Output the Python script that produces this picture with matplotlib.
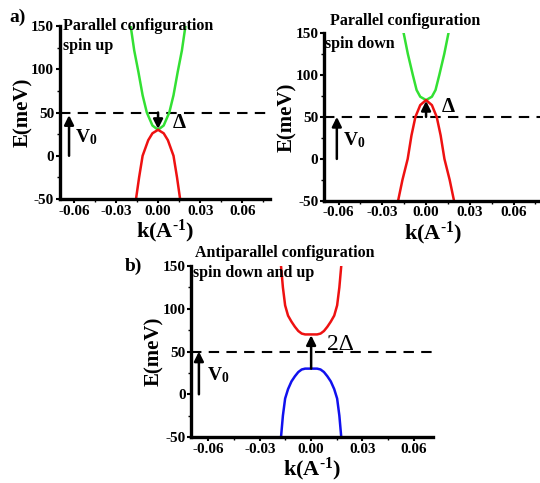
import numpy as np
import matplotlib
matplotlib.use('Agg')
import matplotlib.pyplot as plt
from matplotlib.ticker import MultipleLocator

plt.rcParams['font.family'] = ['Liberation Serif', 'DejaVu Serif']
plt.rcParams['font.weight'] = 'bold'
plt.rcParams['axes.unicode_minus'] = False
plt.rcParams['mathtext.fontset'] = 'custom'
plt.rcParams['mathtext.rm'] = 'Liberation Serif:bold'
plt.rcParams['mathtext.it'] = 'Liberation Serif:bold'
plt.rcParams['mathtext.bf'] = 'Liberation Serif:bold'

# band edges (k in 1/A, E in meV)
k_up_c = [-0.0195, -0.017, -0.014, -0.011, -0.008, -0.004, 0.0, 0.004, 0.008, 0.011, 0.014, 0.017, 0.0195]
E_up_c = [150, 122, 97, 70, 50, 35, 30, 35, 50, 70, 97, 122, 150]
k_up_v = [-0.0157, -0.0135, -0.011, -0.007, -0.004, 0.0, 0.004, 0.007, 0.011, 0.0135, 0.0157]
E_up_v = [-50, -25, 0, 18, 26, 30, 26, 18, 0, -25, -50]

k_dn_c = [-0.0154, -0.0125, -0.0091, -0.0065, -0.004, 0.0, 0.004, 0.0065, 0.0091, 0.0125, 0.0154]
E_dn_c = [150, 125, 100, 82, 74, 70, 74, 82, 100, 125, 150]
k_dn_v = [-0.0192, -0.0162, -0.0126, -0.010, -0.0073, -0.004, 0.0, 0.004, 0.0073, 0.010, 0.0126, 0.0162, 0.0192]
E_dn_v = [-50, -25, 0, 28, 50, 64, 70, 64, 50, 28, 0, -25, -50]

k_ap = [-0.0176, -0.0165, -0.0152, -0.0135, -0.0115, -0.0095, -0.0075, -0.0055, -0.0035, 0.0,
        0.0035, 0.0055, 0.0075, 0.0095, 0.0115, 0.0135, 0.0152, 0.0165, 0.0176]
E_ap_top = [150, 125, 104, 92, 85, 79, 74, 71, 70, 70, 70, 71, 74, 79, 85, 92, 104, 125, 150]
E_ap_bot = [-50, -25, -5, 6, 15, 21, 26, 29, 30, 30, 30, 29, 26, 21, 15, 6, -5, -25, -50]

V0 = 50
xticks = [-0.06, -0.03, 0.00, 0.03, 0.06]
yticks = [-50, 0, 50, 100, 150]

fig = plt.figure(figsize=(5.4, 4.83), dpi=100)


def style_axes(ax, xmax):
    ax.set_xlim(-0.07, xmax)
    ax.set_ylim(-50, 150)
    for s in ['top', 'right']:
        ax.spines[s].set_visible(False)
    for s in ['left', 'bottom']:
        ax.spines[s].set_linewidth(2.4)
    ax.set_xticks(xticks)
    ax.set_xticklabels(['%.2f' % t for t in xticks])
    ax.set_yticks(yticks)
    ax.xaxis.set_minor_locator(MultipleLocator(0.015))
    ax.yaxis.set_minor_locator(MultipleLocator(25))
    ax.tick_params(which='major', length=3, width=1.5, labelsize=11, pad=1)
    ax.tick_params(which='minor', length=2, width=1)
    for lab in ax.get_xticklabels() + ax.get_yticklabels():
        lab.set_fontweight('bold')
    ax.set_xlabel(r'k(A$^{\text{-1}}$)', fontsize=16, fontweight='bold', labelpad=0)
    ax.set_ylabel('E(meV)', fontsize=15, fontweight='bold', labelpad=-1)
    ax.axhline(V0, color='k', lw=1.5, ls=(0, (5, 3.5)), clip_on=False)


def arrow(ax, x, y0, y1):
    ax.annotate('', xy=(x, y1), xytext=(x, y0),
                arrowprops=dict(arrowstyle='-|>', color='k', lw=1.8, mutation_scale=14,
                                shrinkA=0, shrinkB=0))


# a) spin up
ax1 = fig.add_axes([0.1107, 0.588, 0.39, 0.358])
style_axes(ax1, 0.08)
ax1.plot(k_up_c, E_up_c, color='#33e033', lw=1.8)
ax1.plot(k_up_v, E_up_v, color='#ee1111', lw=1.8)
arrow(ax1, -0.0634, 0, 47)
arrow(ax1, 0.0, 50, 31)
ax1.text(-0.059, 22, 'V$_0$', fontsize=14, va='center')
ax1.text(0.0105, 38, 'Δ', fontsize=15, va='center')
ax1.text(-0.068, 150, 'Parallel configuration', fontsize=11.5, va='center')
ax1.text(-0.068, 127, 'spin up', fontsize=11.5, va='center')
fig.text(0.018, 0.965, 'a)', fontsize=14, fontweight='bold', va='center')

# a) spin down
ax2 = fig.add_axes([0.6, 0.584, 0.405, 0.348])
style_axes(ax2, 0.08)
ax2.plot(k_dn_c, E_dn_c, color='#33e033', lw=1.8)
ax2.plot(k_dn_v, E_dn_v, color='#ee1111', lw=1.8)
arrow(ax2, -0.0612, 0, 50)
arrow(ax2, 0.0, 50, 69)
ax2.text(-0.057, 22, 'V$_0$', fontsize=14, va='center')
ax2.text(0.0105, 62, 'Δ', fontsize=15, va='center')
ax2.text(-0.066, 164, 'Parallel configuration', fontsize=11.5, va='center', clip_on=False)
ax2.text(-0.069, 137, 'spin down', fontsize=11.5, va='center')

# b) antiparallel
ax3 = fig.add_axes([0.3544, 0.0952, 0.4467, 0.354])
style_axes(ax3, 0.071)
ax3.plot(k_ap, E_ap_top, color='#ee1111', lw=1.8)
ax3.plot(k_ap, E_ap_bot, color='#1111ee', lw=1.8)
arrow(ax3, -0.0656, 0, 50)
arrow(ax3, 0.0, 30, 69)
ax3.text(-0.061, 22, 'V$_0$', fontsize=14, va='center')
ax3.text(0.0095, 58, '2Δ', fontsize=17, fontweight='normal', va='center')
ax3.text(-0.068, 165, 'Antiparallel configuration', fontsize=11.5, va='center', clip_on=False)
ax3.text(-0.069, 142, 'spin down and up', fontsize=11.5, va='center')
fig.text(0.232, 0.448, 'b)', fontsize=14, fontweight='bold', va='center')

fig.savefig('out.png', dpi=100)
